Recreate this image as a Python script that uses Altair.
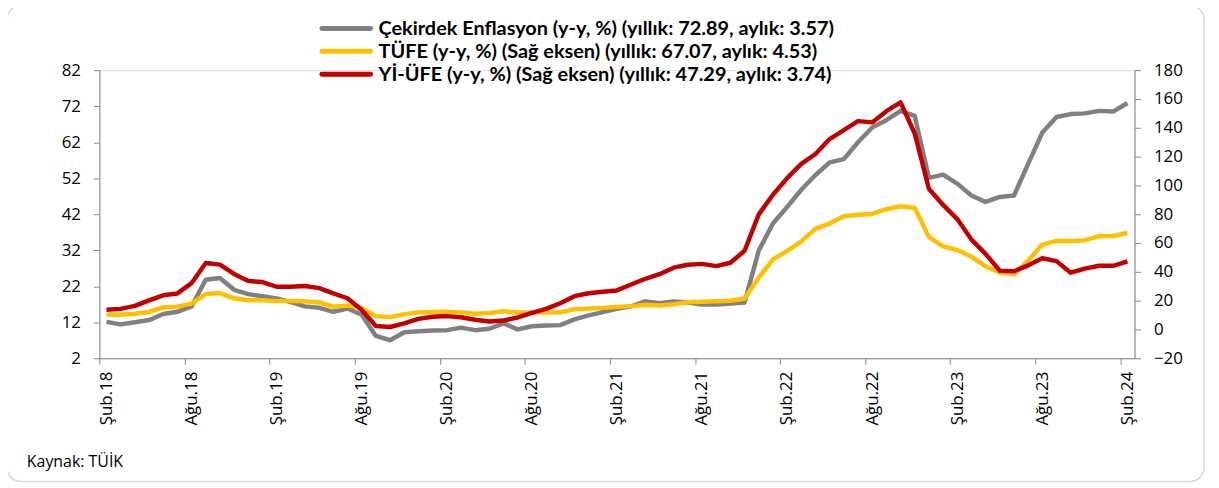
import altair as alt
import pandas as pd

# ---------------- data ----------------
tick_labels = ["Şub.18", "Ağu.18", "Şub.19", "Ağu.19", "Şub.20", "Ağu.20", "Şub.21",
               "Ağu.21", "Şub.22", "Ağu.22", "Şub.23", "Ağu.23", "Şub.24"]

tr_months = ["Oca", "Şub", "Mar", "Nis", "May", "Haz", "Tem", "Ağu", "Eyl", "Eki", "Kas", "Ara"]

# Çekirdek enflasyon (sol eksen), Şub.18 - Şub.24
core = [12.1, 11.4, 12.0, 12.6, 14.3, 14.9, 16.4, 23.8, 24.3, 21.0, 19.8, 19.2,
        18.6, 17.6, 16.4, 16.0, 14.9, 15.8, 14.1, 8.2, 7.0, 9.2, 9.5, 9.7,
        9.8, 10.5, 9.8, 10.2, 11.7, 10.0, 10.9, 11.1, 11.2, 12.8, 13.9, 14.8,
        15.7, 16.4, 17.8, 17.3, 17.8, 17.5, 16.9, 16.9, 17.2, 17.5, 31.9, 39.4,
        44.0, 48.8, 52.9, 56.4, 57.3, 62.0, 66.1, 68.1, 70.7, 69.3, 52.1, 53.0,
        50.5, 47.2, 45.4, 46.8, 47.2, 56.0, 64.7, 69.0, 69.8, 70.0, 70.7, 70.5, 72.89]

# TÜFE (sağ eksen)
cpi = [10.26, 10.23, 10.85, 12.15, 15.39, 15.85, 17.90, 24.52, 25.24, 21.62, 20.30, 20.35,
       19.67, 19.71, 19.50, 18.71, 15.72, 16.65, 15.01, 9.26, 8.55, 10.56, 11.84, 12.15,
       12.37, 11.86, 10.94, 11.39, 12.62, 11.76, 11.77, 11.75, 11.89, 14.03, 14.60, 14.97,
       15.61, 16.19, 17.14, 16.59, 17.53, 18.95, 19.25, 19.58, 19.89, 21.31, 36.08, 48.69,
       54.44, 61.14, 69.97, 73.50, 78.62, 79.60, 80.21, 83.45, 85.51, 84.39, 64.27, 57.68,
       55.18, 50.51, 43.68, 39.59, 38.21, 47.83, 58.94, 61.53, 61.36, 61.98, 64.77, 64.86, 67.07]

# Yİ-ÜFE (sağ eksen)
ppi = [13.71, 14.28, 16.37, 20.16, 23.71, 25.00, 32.13, 46.15, 45.01, 38.54, 33.64, 32.93,
       29.64, 29.64, 30.12, 28.71, 25.04, 21.66, 13.45, 2.45, 1.70, 4.26, 7.36, 8.84,
       9.26, 8.50, 6.71, 5.53, 6.17, 8.33, 11.53, 14.33, 18.20, 23.11, 25.15, 26.16,
       27.09, 31.20, 35.17, 38.33, 42.89, 44.92, 45.52, 43.96, 46.31, 54.62, 79.89, 93.53,
       105.01, 114.97, 121.82, 132.16, 138.31, 144.61, 143.75, 151.50, 157.69, 136.02, 97.72, 86.46,
       76.61, 62.40, 52.44, 40.76, 40.42, 44.50, 49.41, 47.44, 39.39, 42.25, 44.22, 44.20, 47.29]

series_names = [
    "Çekirdek Enflasyon (y-y, %) (yıllık: 72.89, aylık: 3.57)",
    "TÜFE (y-y, %) (Sağ eksen) (yıllık: 67.07, aylık: 4.53)",
    "Yİ-ÜFE (y-y, %) (Sağ eksen) (yıllık: 47.29, aylık: 3.74)",
]
series_colors = ["#808080", "#FFC000", "#C00000"]

left_ticks = [2, 12, 22, 32, 42, 52, 62, 72, 82]
right_ticks = [-20, 0, 20, 40, 60, 80, 100, 120, 140, 160, 180]

source_note = ["Kaynak: TÜİK"]

# ---------------- tables ----------------
n = len(core)
months = [f"{tr_months[(1 + i) % 12]}.{18 + (1 + i) // 12}" for i in range(n)]

left_df = pd.DataFrame({"i": range(n), "ay": months, "deger": core, "seri": series_names[0]})
right_df = pd.concat([
    pd.DataFrame({"i": range(n), "ay": months, "deger": cpi, "seri": series_names[1]}),
    pd.DataFrame({"i": range(n), "ay": months, "deger": ppi, "seri": series_names[2]}),
])
legend_df = pd.DataFrame({"seri": series_names})
note_df = pd.DataFrame({"not": source_note})

FONT = "Open Sans"
LEG_FONT = "Lato"
AXIS_COLOR = "#868686"

label_js = "[" + ",".join(f"'{t}'" for t in tick_labels) + "]"
x_ticks = [6 * k - 0.5 for k in range(len(tick_labels))]

x_enc = alt.X(
    "i:Q",
    scale=alt.Scale(domain=[-0.5, n - 0.5], nice=False, zero=False),
    axis=alt.Axis(
        values=x_ticks,
        labelExpr=f"{label_js}[round((datum.value + 0.5) / 6)]",
        labelAngle=270, labelAlign="right", labelBaseline="middle",
        labelOffset=7, labelPadding=7, tickSize=6, title=None,
        labelFont=FONT, labelFontSize=17, labelColor="#000000",
        domainColor=AXIS_COLOR, tickColor=AXIS_COLOR, grid=False,
    ),
)

color_scale = alt.Scale(domain=series_names, range=series_colors)
color_enc = alt.Color("seri:N", scale=color_scale, legend=None)

left_layer = alt.Chart(left_df).mark_line(strokeWidth=4.5, strokeJoin="round").encode(
    x=x_enc,
    y=alt.Y("deger:Q",
            scale=alt.Scale(domain=[2, 82], nice=False, zero=False),
            axis=alt.Axis(values=left_ticks, orient="left", title=None, tickSize=6,
                          labelPadding=13, labelFont=FONT, labelFontSize=17,
                          labelColor="#000000", domainColor=AXIS_COLOR,
                          tickColor=AXIS_COLOR, grid=False)),
    color=color_enc,
    detail="seri:N",
)

right_layer = alt.Chart(right_df).mark_line(strokeWidth=4.5, strokeJoin="round").encode(
    x=x_enc,
    y=alt.Y("deger:Q",
            scale=alt.Scale(domain=[-20, 180], nice=False, zero=False),
            axis=alt.Axis(values=right_ticks, orient="right", title=None, tickSize=6,
                          labelPadding=13, labelFont=FONT, labelFontSize=17,
                          labelColor="#000000", domainColor=AXIS_COLOR,
                          tickColor=AXIS_COLOR, grid=False)),
    color=color_enc,
    detail="seri:N",
)

# legend drawn as its own small layer (rows placed by a point scale)
leg_y = alt.Y("seri:N", sort=series_names,
              scale=alt.Scale(type="point", domain=series_names, range=[-42, 4], padding=0),
              axis=None)

legend_lines = alt.Chart(legend_df).mark_rule(strokeWidth=5, strokeCap="round").encode(
    x=alt.value(224), x2=alt.value(273), y=leg_y, color=color_enc,
)
legend_text = alt.Chart(legend_df).mark_text(
    align="left", baseline="middle", font=LEG_FONT, fontSize=20, fontWeight="bold",
    color="#000000", dy=1,
).encode(
    x=alt.value(281), y=leg_y, text="seri:N",
)

note = alt.Chart(note_df).mark_text(
    align="left", baseline="middle", font=FONT, fontSize=16, color="#000000",
).encode(
    x=alt.value(-73), y=alt.value(394), text="not:N",
)

frame = alt.Chart(pd.DataFrame({"k": [0]})).mark_rect(
    fill=None, stroke="#d9d9d9", strokeWidth=1.5, cornerRadius=14, clip=False
).encode(
    x=alt.value(-93), x2=alt.value(1112), y=alt.value(-65), y2=alt.value(414)
)

chart = alt.layer(frame, left_layer, right_layer, legend_lines, legend_text, note).resolve_scale(
    y="independent"
).properties(
    width=1042, height=290,
    padding={"left": 92, "top": 61, "right": 77, "bottom": 125},
    autosize=alt.AutoSizeParams(type="none"),
).configure_view(stroke=None).configure(background="#ffffff")

chart.save("out.html", embed_options={"renderer": "svg", "actions": False})
